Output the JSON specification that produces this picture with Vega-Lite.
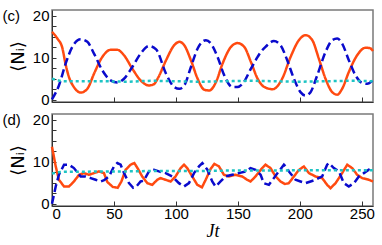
{
  "$schema": "https://vega.github.io/schema/vega-lite/v6.json",
  "padding": {"left": 1, "top": 8, "right": 5, "bottom": 3},
  "background": "white",
  "spacing": 3,
  "config": {
    "view": {"stroke": "#7a7a7a", "strokeWidth": 1.5},
    "font": "Liberation Sans",
    "axis": {"grid": false, "minExtent": 0, "domainColor": "#333", "tickColor": "#333", "labelColor": "#000", "titleColor": "#000", "labelFont": "Liberation Sans", "labelFontSize": 15, "tickSize": -4, "labelPadding": 7}
  },
  "datasets": {
    "d": [
      {"p":"c","s":"o","t":0,"v":16.2},{"p":"c","s":"o","t":4.3,"v":14.6},{"p":"c","s":"o","t":8.3,"v":12.4},{"p":"c","s":"o","t":11,"v":8.4},{"p":"c","s":"o","t":13.7,"v":5.4},{"p":"c","s":"o","t":17.7,"v":3.0},{"p":"c","s":"o","t":23.1,"v":1.7},{"p":"c","s":"o","t":28.5,"v":2.6},{"p":"c","s":"o","t":33.9,"v":6.2},{"p":"c","s":"o","t":40.6,"v":10.2},{"p":"c","s":"o","t":47.3,"v":11.9},{"p":"c","s":"o","t":52.7,"v":11.9},{"p":"c","s":"o","t":58.1,"v":10.6},{"p":"c","s":"o","t":64.8,"v":7.4},{"p":"c","s":"o","t":71.5,"v":4.6},{"p":"c","s":"o","t":78.2,"v":3.4},{"p":"c","s":"o","t":82.3,"v":3.7},{"p":"c","s":"o","t":85.2,"v":5.0},{"p":"c","s":"o","t":92,"v":9.4},{"p":"c","s":"o","t":98.6,"v":13.0},{"p":"c","s":"o","t":102.7,"v":13.8},{"p":"c","s":"o","t":106.7,"v":13.0},{"p":"c","s":"o","t":112.1,"v":9.4},{"p":"c","s":"o","t":117.5,"v":5.0},{"p":"c","s":"o","t":122.8,"v":2.4},{"p":"c","s":"o","t":126.9,"v":2.2},{"p":"c","s":"o","t":132.3,"v":4.2},{"p":"c","s":"o","t":137.6,"v":8.6},{"p":"c","s":"o","t":144.4,"v":12.6},{"p":"c","s":"o","t":149.7,"v":13.5},{"p":"c","s":"o","t":155.1,"v":12.6},{"p":"c","s":"o","t":160.5,"v":9.0},{"p":"c","s":"o","t":165.9,"v":5.0},{"p":"c","s":"o","t":169,"v":3.6},{"p":"c","s":"o","t":173,"v":2.8},{"p":"c","s":"o","t":178,"v":2.5},{"p":"c","s":"o","t":185.7,"v":5.0},{"p":"c","s":"o","t":192.5,"v":10.2},{"p":"c","s":"o","t":199.2,"v":14.2},{"p":"c","s":"o","t":204.6,"v":15.4},{"p":"c","s":"o","t":210,"v":14.2},{"p":"c","s":"o","t":215.3,"v":9.8},{"p":"c","s":"o","t":220.7,"v":5.0},{"p":"c","s":"o","t":226.1,"v":1.8},{"p":"c","s":"o","t":230.1,"v":1.2},{"p":"c","s":"o","t":234.1,"v":2.6},{"p":"c","s":"o","t":239.5,"v":6.6},{"p":"c","s":"o","t":246.2,"v":10.6},{"p":"c","s":"o","t":253,"v":12.4},{"p":"c","s":"o","t":256.5,"v":12.3},{"p":"c","s":"o","t":259,"v":11.6},

      {"p":"c","s":"b","t":0,"v":0.1},{"p":"c","s":"b","t":5.6,"v":3.4},{"p":"c","s":"b","t":11,"v":8.6},{"p":"c","s":"b","t":16.4,"v":12.6},{"p":"c","s":"b","t":23.1,"v":14.4},{"p":"c","s":"b","t":28.5,"v":13.8},{"p":"c","s":"b","t":33.9,"v":11.0},{"p":"c","s":"b","t":40.6,"v":7.0},{"p":"c","s":"b","t":47.3,"v":4.6},{"p":"c","s":"b","t":52.7,"v":4.1},{"p":"c","s":"b","t":58.1,"v":5.0},{"p":"c","s":"b","t":64.8,"v":7.8},{"p":"c","s":"b","t":71.5,"v":11.0},{"p":"c","s":"b","t":78.2,"v":12.8},{"p":"c","s":"b","t":84,"v":12.0},{"p":"c","s":"b","t":92,"v":6.2},{"p":"c","s":"b","t":98.6,"v":3.0},{"p":"c","s":"b","t":102.7,"v":2.6},{"p":"c","s":"b","t":106.7,"v":3.4},{"p":"c","s":"b","t":112.1,"v":7.8},{"p":"c","s":"b","t":117.5,"v":12.2},{"p":"c","s":"b","t":124.2,"v":14.2},{"p":"c","s":"b","t":128.2,"v":13.4},{"p":"c","s":"b","t":133.6,"v":10.2},{"p":"c","s":"b","t":139,"v":5.8},{"p":"c","s":"b","t":145.7,"v":3.0},{"p":"c","s":"b","t":149.7,"v":3.0},{"p":"c","s":"b","t":153.8,"v":3.8},{"p":"c","s":"b","t":160.5,"v":7.4},{"p":"c","s":"b","t":165.9,"v":10.2},{"p":"c","s":"b","t":168.5,"v":11.4},{"p":"c","s":"b","t":172.3,"v":12.6},{"p":"c","s":"b","t":179,"v":14.0},{"p":"c","s":"b","t":184.4,"v":13.0},{"p":"c","s":"b","t":189.8,"v":9.4},{"p":"c","s":"b","t":195.2,"v":5.0},{"p":"c","s":"b","t":200.5,"v":1.8},{"p":"c","s":"b","t":204.6,"v":1.0},{"p":"c","s":"b","t":208.6,"v":1.8},{"p":"c","s":"b","t":214,"v":5.8},{"p":"c","s":"b","t":220.7,"v":11.4},{"p":"c","s":"b","t":226.1,"v":14.2},{"p":"c","s":"b","t":230.1,"v":14.6},{"p":"c","s":"b","t":234.1,"v":13.4},{"p":"c","s":"b","t":239.5,"v":9.4},{"p":"c","s":"b","t":244.9,"v":5.8},{"p":"c","s":"b","t":250.3,"v":4.0},{"p":"c","s":"b","t":254.3,"v":3.8},{"p":"c","s":"b","t":259,"v":4.7},

      {"p":"c","s":"c","t":0,"v":5.0},{"p":"c","s":"c","t":5,"v":4.6},{"p":"c","s":"c","t":10,"v":4.4},{"p":"c","s":"c","t":20,"v":4.4},{"p":"c","s":"c","t":40,"v":4.4},{"p":"c","s":"c","t":60,"v":4.3},{"p":"c","s":"c","t":80,"v":4.5},{"p":"c","s":"c","t":100,"v":4.4},{"p":"c","s":"c","t":120,"v":4.3},{"p":"c","s":"c","t":140,"v":4.4},{"p":"c","s":"c","t":160,"v":4.5},{"p":"c","s":"c","t":180,"v":4.4},{"p":"c","s":"c","t":200,"v":4.3},{"p":"c","s":"c","t":220,"v":4.4},{"p":"c","s":"c","t":240,"v":4.5},{"p":"c","s":"c","t":259,"v":4.4},

      {"p":"d","s":"o","t":0,"v":13.6},{"p":"d","s":"o","t":3,"v":8.9},{"p":"d","s":"o","t":5.6,"v":5.7},{"p":"d","s":"o","t":9.7,"v":4.1},{"p":"d","s":"o","t":13.7,"v":4.1},{"p":"d","s":"o","t":17.7,"v":5.3},{"p":"d","s":"o","t":21.8,"v":6.9},{"p":"d","s":"o","t":25.8,"v":7.3},{"p":"d","s":"o","t":29.8,"v":6.9},{"p":"d","s":"o","t":33.9,"v":7.3},{"p":"d","s":"o","t":37.9,"v":7.7},{"p":"d","s":"o","t":41.9,"v":7.3},{"p":"d","s":"o","t":44.6,"v":5.2},{"p":"d","s":"o","t":49,"v":4.0},{"p":"d","s":"o","t":53,"v":3.8},{"p":"d","s":"o","t":56,"v":5.3},{"p":"d","s":"o","t":59.4,"v":8.1},{"p":"d","s":"o","t":63.4,"v":9.3},{"p":"d","s":"o","t":66.4,"v":9.7},{"p":"d","s":"o","t":69,"v":8.5},{"p":"d","s":"o","t":72.8,"v":6.5},{"p":"d","s":"o","t":76.9,"v":4.9},{"p":"d","s":"o","t":80.9,"v":4.5},{"p":"d","s":"o","t":84.9,"v":5.7},{"p":"d","s":"o","t":87.6,"v":6.1},{"p":"d","s":"o","t":91.7,"v":5.7},{"p":"d","s":"o","t":95.7,"v":5.3},{"p":"d","s":"o","t":99.7,"v":6.5},{"p":"d","s":"o","t":103.8,"v":8.5},{"p":"d","s":"o","t":106.5,"v":9.3},{"p":"d","s":"o","t":109.1,"v":8.5},{"p":"d","s":"o","t":113.2,"v":6.5},{"p":"d","s":"o","t":117.2,"v":4.5},{"p":"d","s":"o","t":121,"v":3.9},{"p":"d","s":"o","t":124,"v":5.7},{"p":"d","s":"o","t":128,"v":8.3},{"p":"d","s":"o","t":131,"v":9.5},{"p":"d","s":"o","t":134.7,"v":8.9},{"p":"d","s":"o","t":138.7,"v":6.9},{"p":"d","s":"o","t":142.7,"v":6.5},{"p":"d","s":"o","t":148.1,"v":6.9},{"p":"d","s":"o","t":153.5,"v":6.5},{"p":"d","s":"o","t":157.5,"v":5.7},{"p":"d","s":"o","t":160.2,"v":5.3},{"p":"d","s":"o","t":164.2,"v":6.5},{"p":"d","s":"o","t":169.6,"v":8.5},{"p":"d","s":"o","t":172.3,"v":9.3},{"p":"d","s":"o","t":176.3,"v":8.5},{"p":"d","s":"o","t":180.4,"v":6.5},{"p":"d","s":"o","t":184.4,"v":5.3},{"p":"d","s":"o","t":188,"v":4.7},{"p":"d","s":"o","t":191.1,"v":4.9},{"p":"d","s":"o","t":195.2,"v":6.5},{"p":"d","s":"o","t":199,"v":8.0},{"p":"d","s":"o","t":203.2,"v":8.9},{"p":"d","s":"o","t":207.3,"v":7.3},{"p":"d","s":"o","t":212.6,"v":6.5},{"p":"d","s":"o","t":218,"v":6.1},{"p":"d","s":"o","t":222,"v":4.5},{"p":"d","s":"o","t":224.7,"v":3.7},{"p":"d","s":"o","t":228.8,"v":4.9},{"p":"d","s":"o","t":234.1,"v":7.3},{"p":"d","s":"o","t":238.2,"v":9.3},{"p":"d","s":"o","t":242.2,"v":8.5},{"p":"d","s":"o","t":246.2,"v":6.9},{"p":"d","s":"o","t":250.3,"v":6.1},{"p":"d","s":"o","t":255.6,"v":5.7},{"p":"d","s":"o","t":259,"v":5.3},

      {"p":"d","s":"b","t":0,"v":0.0},{"p":"d","s":"b","t":3,"v":4.1},{"p":"d","s":"b","t":5.6,"v":6.9},{"p":"d","s":"b","t":9.7,"v":9.3},{"p":"d","s":"b","t":13.7,"v":9.3},{"p":"d","s":"b","t":17.7,"v":8.5},{"p":"d","s":"b","t":23.1,"v":6.5},{"p":"d","s":"b","t":27.2,"v":6.5},{"p":"d","s":"b","t":31.2,"v":6.1},{"p":"d","s":"b","t":35.2,"v":5.7},{"p":"d","s":"b","t":39.2,"v":5.3},{"p":"d","s":"b","t":42,"v":5.6},{"p":"d","s":"b","t":46,"v":6.5},{"p":"d","s":"b","t":50,"v":8.9},{"p":"d","s":"b","t":52.7,"v":9.7},{"p":"d","s":"b","t":55.4,"v":9.3},{"p":"d","s":"b","t":58.1,"v":7.3},{"p":"d","s":"b","t":62.1,"v":4.9},{"p":"d","s":"b","t":65.5,"v":3.8},{"p":"d","s":"b","t":68,"v":4.1},{"p":"d","s":"b","t":71.5,"v":5.3},{"p":"d","s":"b","t":74,"v":5.5},{"p":"d","s":"b","t":78.2,"v":7.7},{"p":"d","s":"b","t":82.3,"v":8.1},{"p":"d","s":"b","t":86.3,"v":7.7},{"p":"d","s":"b","t":91.7,"v":7.3},{"p":"d","s":"b","t":97.1,"v":6.5},{"p":"d","s":"b","t":102.4,"v":4.9},{"p":"d","s":"b","t":106.5,"v":4.1},{"p":"d","s":"b","t":110.5,"v":4.9},{"p":"d","s":"b","t":114.6,"v":7.3},{"p":"d","s":"b","t":118.6,"v":8.9},{"p":"d","s":"b","t":121.3,"v":9.7},{"p":"d","s":"b","t":125.4,"v":8.1},{"p":"d","s":"b","t":129.3,"v":5.3},{"p":"d","s":"b","t":132,"v":4.1},{"p":"d","s":"b","t":136,"v":5.3},{"p":"d","s":"b","t":140,"v":6.5},{"p":"d","s":"b","t":145.4,"v":6.9},{"p":"d","s":"b","t":150.8,"v":7.3},{"p":"d","s":"b","t":156.2,"v":7.7},{"p":"d","s":"b","t":160.2,"v":8.5},{"p":"d","s":"b","t":164.2,"v":8.1},{"p":"d","s":"b","t":168.3,"v":6.9},{"p":"d","s":"b","t":170.9,"v":4.9},{"p":"d","s":"b","t":175,"v":4.5},{"p":"d","s":"b","t":179,"v":6.1},{"p":"d","s":"b","t":183,"v":7.7},{"p":"d","s":"b","t":187.1,"v":9.3},{"p":"d","s":"b","t":189.8,"v":8.5},{"p":"d","s":"b","t":191.1,"v":7.7},{"p":"d","s":"b","t":196.5,"v":5.7},{"p":"d","s":"b","t":200.5,"v":5.3},{"p":"d","s":"b","t":204.6,"v":4.9},{"p":"d","s":"b","t":208.6,"v":5.3},{"p":"d","s":"b","t":212.6,"v":5.7},{"p":"d","s":"b","t":218,"v":6.5},{"p":"d","s":"b","t":222,"v":9.3},{"p":"d","s":"b","t":223.4,"v":9.7},{"p":"d","s":"b","t":227.4,"v":8.5},{"p":"d","s":"b","t":231.5,"v":7.7},{"p":"d","s":"b","t":235.5,"v":4.9},{"p":"d","s":"b","t":239.5,"v":4.1},{"p":"d","s":"b","t":243.6,"v":4.9},{"p":"d","s":"b","t":247.6,"v":6.5},{"p":"d","s":"b","t":251.6,"v":7.3},{"p":"d","s":"b","t":255.6,"v":8.1},{"p":"d","s":"b","t":259,"v":7.7},

      {"p":"d","s":"c","t":0,"v":7.2},{"p":"d","s":"c","t":5,"v":7.5},{"p":"d","s":"c","t":10,"v":7.6},{"p":"d","s":"c","t":20,"v":7.6},{"p":"d","s":"c","t":40,"v":7.7},{"p":"d","s":"c","t":60,"v":7.7},{"p":"d","s":"c","t":80,"v":7.8},{"p":"d","s":"c","t":100,"v":7.8},{"p":"d","s":"c","t":120,"v":7.8},{"p":"d","s":"c","t":140,"v":7.9},{"p":"d","s":"c","t":160,"v":7.9},{"p":"d","s":"c","t":180,"v":7.9},{"p":"d","s":"c","t":200,"v":8.0},{"p":"d","s":"c","t":220,"v":8.0},{"p":"d","s":"c","t":240,"v":8.0},{"p":"d","s":"c","t":259,"v":8.0}
    ],
    "labels": [
      {"p": "c", "lab": "(c)", "t": -40, "v": 20},
      {"p": "d", "lab": "(d)", "t": -40, "v": 20}
    ]
  },
  "vconcat": [
    {
      "width": 321, "height": 92,
      "encoding": {
        "x": {"field": "t", "type": "quantitative", "scale": {"domain": [0, 259], "nice": false, "zero": false},
              "axis": {"values": [0, 50, 100, 150, 200, 250], "labels": false, "title": null, "tickSize": -5}},
        "y": {"field": "v", "type": "quantitative", "scale": {"domain": [-0.55, 21.4], "nice": false, "zero": false},
              "axis": {"values": [0, 2.5, 5, 7.5, 10, 12.5, 15, 17.5, 20], "labelExpr": "datum.value % 10 === 0 ? datum.label : ''", "title": "⟨Nᵢ⟩", "titleFont": "DejaVu Sans", "titleFontSize": 18, "titleFontWeight": "normal", "titlePadding": 5}}
      },
      "layer": [
        {
          "data": {"name": "d"},
          "transform": [{"filter": "datum.p === 'c'"}],
          "mark": {"type": "line", "interpolate": "monotone", "strokeCap": "butt"},
          "encoding": {
            "color": {"field": "s", "type": "nominal", "scale": {"domain": ["o", "b", "c"], "range": ["#ff4a10", "#0a0acc", "#1ec4c4"]}, "legend": null},
            "strokeDash": {"field": "s", "type": "nominal", "scale": {"domain": ["o", "b", "c"], "range": [[1, 0], [8, 4], [3, 3]]}, "legend": null},
            "strokeWidth": {"field": "s", "type": "nominal", "scale": {"domain": ["o", "b", "c"], "range": [2.5, 2.5, 3.2]}, "legend": null}
          }
        },
        {
          "data": {"name": "labels"},
          "transform": [{"filter": "datum.p === 'c'"}],
          "mark": {"type": "text", "align": "left", "baseline": "middle", "fontSize": 15, "font": "Liberation Sans", "color": "#000"},
          "encoding": {"text": {"field": "lab"}}
        }
      ]
    },
    {
      "width": 321, "height": 92,
      "encoding": {
        "x": {"field": "t", "type": "quantitative", "scale": {"domain": [0, 259], "nice": false, "zero": false},
              "axis": {"values": [0, 50, 100, 150, 200, 250], "title": "Jt", "tickSize": -5, "labelPadding": 5, "titleFont": "Liberation Serif", "titleFontStyle": "italic", "titleFontSize": 18, "titleFontWeight": "normal", "titlePadding": 1}},
        "y": {"field": "v", "type": "quantitative", "scale": {"domain": [-0.55, 21.4], "nice": false, "zero": false},
              "axis": {"values": [0, 2.5, 5, 7.5, 10, 12.5, 15, 17.5, 20], "labelExpr": "datum.value % 10 === 0 ? datum.label : ''", "title": "⟨Nᵢ⟩", "titleFont": "DejaVu Sans", "titleFontSize": 18, "titleFontWeight": "normal", "titlePadding": 5}}
      },
      "layer": [
        {
          "data": {"name": "d"},
          "transform": [{"filter": "datum.p === 'd'"}],
          "mark": {"type": "line", "interpolate": "linear", "strokeCap": "butt"},
          "encoding": {
            "color": {"field": "s", "type": "nominal", "scale": {"domain": ["o", "b", "c"], "range": ["#ff4a10", "#0a0acc", "#1ec4c4"]}, "legend": null},
            "strokeDash": {"field": "s", "type": "nominal", "scale": {"domain": ["o", "b", "c"], "range": [[1, 0], [8, 4], [3, 3]]}, "legend": null},
            "strokeWidth": {"field": "s", "type": "nominal", "scale": {"domain": ["o", "b", "c"], "range": [2.5, 2.5, 3.2]}, "legend": null}
          }
        },
        {
          "data": {"name": "labels"},
          "transform": [{"filter": "datum.p === 'd'"}],
          "mark": {"type": "text", "align": "left", "baseline": "middle", "fontSize": 15, "font": "Liberation Sans", "color": "#000"},
          "encoding": {"text": {"field": "lab"}}
        }
      ]
    }
  ]
}
